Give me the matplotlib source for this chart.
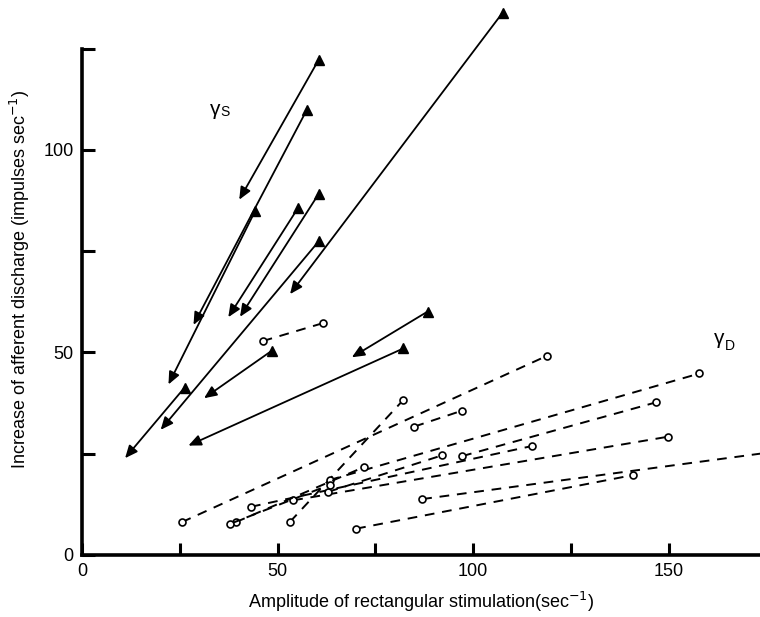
import numpy as np
import matplotlib.pyplot as plt

plt.rcParams['font.family'] = ['Liberation Sans', 'DejaVu Sans']

# gamma-S (solid lines): lower end (arrow head) and upper end (filled triangle)
gs_x0 = [40.2, 28.5, 22.1, 37.4, 40.4, 20.1, 53.2, 31.2, 27.2, 69.0, 11.0]
gs_y0 = [87.7, 56.8, 42.1, 58.7, 58.8, 30.9, 64.4, 38.7, 27.0, 48.8, 23.9]
gs_x1 = [60.5, 57.5, 44.2, 55.2, 60.5, 60.5, 107.6, 48.5, 82.2, 88.4, 26.2]
gs_y1 = [122.2, 109.9, 84.8, 85.6, 89.1, 77.4, 133.9, 50.4, 51.0, 60.1, 41.3]

# gamma-D (dashed lines, open circles)
gd_x0 = [46.2, 25.5, 53.2, 85.0, 63.3, 97.2, 70.1, 87.0, 43.2, 54.0, 63.0, 39.3, 37.9]
gd_y0 = [52.8, 8.1, 8.2, 31.7, 18.5, 24.4, 6.5, 13.8, 11.9, 13.5, 15.6, 8.1, 7.7]
gd_x1 = [61.5, 119.0, 82.2, 97.1, 157.9, 146.9, 140.8, 178.0, 115.1, 149.9, 92.1, 72.1, 63.3]
gd_y1 = [57.2, 49.2, 38.3, 35.6, 44.8, 37.7, 19.7, 25.6, 26.9, 29.2, 24.6, 21.7, 17.3]

x_ticks = [0, 25, 50, 75, 100, 125, 150]
x_labels = ['0', '', '50', '', '100', '', '150']
y_ticks = [0, 25, 50, 75, 100, 125]
y_labels = ['0', '', '50', '', '100', '']

fig = plt.figure(figsize=(7.6, 6.17), dpi=100)
ax = fig.add_axes([0.108, 0.1005, 0.892, 0.893])
ax.set_xlim(0, 173.4)
ax.set_ylim(0, 136)

for x0, y0, x1, y1 in zip(gs_x0, gs_y0, gs_x1, gs_y1):
    ax.annotate('', xy=(x0, y0), xytext=(x1, y1),
                arrowprops=dict(arrowstyle='-|>,head_length=0.75,head_width=0.33',
                                color='k', lw=1.3, shrinkA=0, shrinkB=0,
                                mutation_scale=10))
    ax.plot([x1], [y1], marker='^', ms=7, mfc='k', mec='k', ls='none',
            clip_on=False)

for x0, y0, x1, y1 in zip(gd_x0, gd_y0, gd_x1, gd_y1):
    ax.plot([x0, x1], [y0, y1], color='k', lw=1.4, ls=(0, (5, 4)),
            marker='o', ms=5, mfc='white', mec='k', mew=1.2)

ax.spines['top'].set_visible(False)
ax.spines['right'].set_visible(False)
ax.spines['left'].set_bounds(0, 125)
ax.spines['left'].set_linewidth(2.6)
ax.spines['bottom'].set_linewidth(2.6)

ax.set_xticks(x_ticks)
ax.set_xticklabels(x_labels)
ax.set_yticks(y_ticks)
ax.set_yticklabels(y_labels)
ax.tick_params(direction='in', length=9, width=2.2, labelsize=13, pad=6)

ax.set_xlabel('Amplitude of rectangular stimulation(sec$^{-1}$)', fontsize=13, labelpad=7)
ax.set_ylabel('Increase of afferent discharge (impulses sec$^{-1}$)', fontsize=13, labelpad=8)

ax.text(34.0, 110, '\u03b3', fontsize=15, ha='center', va='center')
ax.text(36.6, 109.3, 'S', fontsize=10, ha='center', va='center')
ax.text(163, 53.5, '\u03b3', fontsize=15, ha='center', va='center')
ax.text(165.8, 51.5, 'D', fontsize=10, ha='center', va='center')

fig.savefig('out.png', dpi=100)
